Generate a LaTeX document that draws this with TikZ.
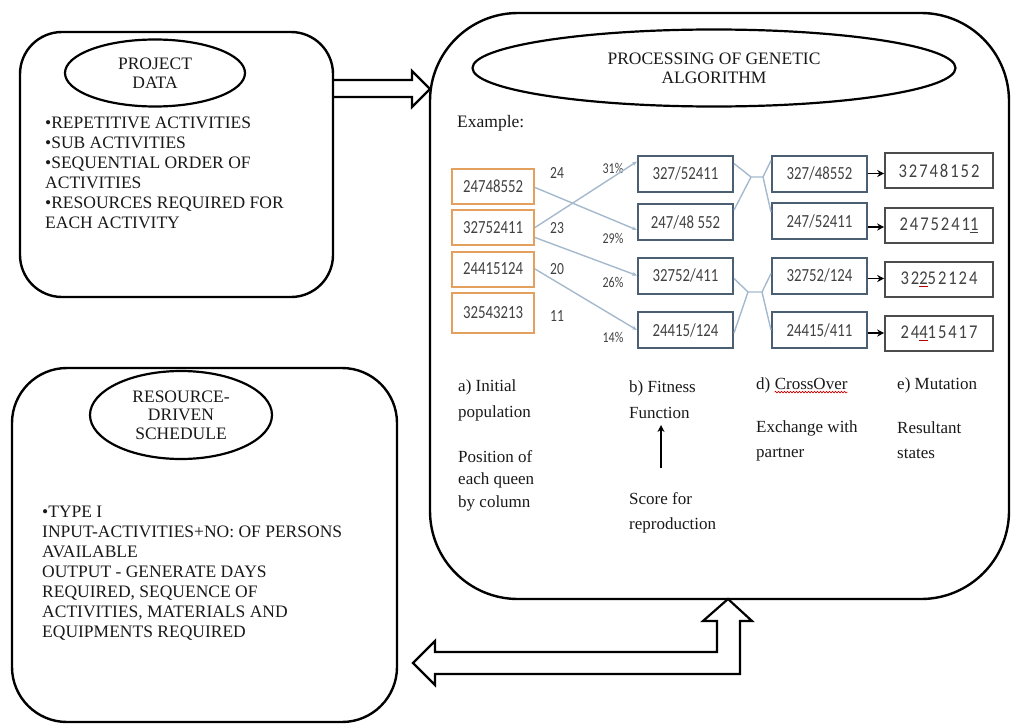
\documentclass[tikz,border=0pt]{standalone}
\usepackage{fontspec}
\setmainfont{Liberation Serif}
\newfontfamily\gafont[FakeStretch=0.8]{Carlito}
\newfontfamily\mutfont[FakeStretch=0.85,LetterSpace=10]{Carlito}
\usetikzlibrary{shapes.geometric,arrows.meta,calc,decorations.pathmorphing}
\definecolor{txt}{RGB}{25,25,25}
\definecolor{orng}{RGB}{228,160,95}
\definecolor{slate}{RGB}{75,95,115}
\definecolor{conn}{RGB}{165,185,205}
\definecolor{digit}{RGB}{65,65,65}
\tikzset{
 bigbox/.style={draw=black, line width=2.4pt, rounded corners=#1, inner sep=0pt},
 oval/.style={ellipse, draw=black, line width=2.2pt, inner sep=0pt, align=center, font=\fontsize{17.5}{19}\selectfont, text=txt},
 body/.style={align=left, font=\fontsize{17.5}{20}\selectfont, text=txt, inner sep=0pt, anchor=west},
 popbox/.style={draw=orng, line width=2pt, minimum width=82pt, minimum height=35pt, inner sep=0pt, font=\gafont\fontsize{18.5}{18}\selectfont, text=digit},
 fitbox/.style={draw=slate, line width=2pt, minimum width=95pt, minimum height=36pt, inner sep=0pt, font=\gafont\fontsize{18.5}{18}\selectfont, text=digit},
 mutbox/.style={draw=black!70, line width=1.6pt, minimum width=108pt, minimum height=35pt, inner sep=0pt, font=\mutfont\fontsize{19.5}{18}\selectfont, text=digit},
 score/.style={font=\gafont\fontsize{17}{17}\selectfont, text=digit, inner sep=0pt},
 lbl/.style={align=left, anchor=west, inner sep=0pt, text=txt},
 link/.style={draw=conn, line width=1.4pt},
 linkarr/.style={link, -{Stealth[length=5pt,width=4pt]}},
 blk/.style={line width=1.5pt, -{Stealth[length=7pt,width=7pt]}},
 hollow/.style={draw=black, line width=2.2pt, line join=miter},
}
\begin{document}
\begin{tikzpicture}[x=1pt,y=-1pt]
\useasboundingbox (0,0) rectangle (1011,725);

% ---------- big boxes ----------
\node[bigbox=42pt, minimum width=313pt, minimum height=265pt] (b1) at (176.5,164.5) {};
\node[bigbox=55pt, minimum width=385pt, minimum height=354pt] (b2) at (204.5,545) {};
\node[bigbox=88pt, minimum width=579pt, minimum height=586pt] (b3) at (719.5,306) {};

% ---------- ovals ----------
\node[oval, minimum width=180pt, minimum height=67pt] (e1) at (155,73) {PROJECT\\DATA};
\node[oval, minimum width=182pt, minimum height=88pt, font=\fontsize{17.5}{18.5}\selectfont] (e2) at (181,415) {RESOURCE-\\DRIVEN\\SCHEDULE};
\node[oval, minimum width=483pt, minimum height=77pt] (e3) at (714,68) {PROCESSING OF GENETIC\\ALGORITHM};

% ---------- box texts ----------
\node[body] (t1) at (45,173) {•REPETITIVE ACTIVITIES\\•SUB ACTIVITIES\\•SEQUENTIAL ORDER OF\\ACTIVITIES\\•RESOURCES REQUIRED FOR\\EACH ACTIVITY};
\node[body] (t2) at (42,573) {•TYPE I\\INPUT-ACTIVITIES+NO: OF PERSONS\\AVAILABLE\\OUTPUT - GENERATE DAYS\\REQUIRED, SEQUENCE OF\\ACTIVITIES, MATERIALS AND\\EQUIPMENTS REQUIRED};

% ---------- GA example ----------
\node[lbl, font=\fontsize{17.5}{20}\selectfont] (ex) at (457,123) {Example:};

\node[popbox] (o1) at (493,186.5) {24748552};
\node[popbox] (o2) at (493,227.5) {32752411};
\node[popbox] (o3) at (493,269) {24415124};
\node[popbox, minimum height=40pt] (o4) at (493,313) {32543213};

\node[score] (s1) at (557,173) {24};
\node[score] (s2) at (557,228) {23};
\node[score] (s3) at (557,269) {20};
\node[score] (s4) at (557,316) {11};

\node[score, font=\gafont\fontsize{15}{15}\selectfont] (p1) at (613,168) {31\%};
\node[score, font=\gafont\fontsize{15}{15}\selectfont] (p2) at (613,238) {29\%};
\node[score, font=\gafont\fontsize{15}{15}\selectfont] (p3) at (613,282) {26\%};
\node[score, font=\gafont\fontsize{15}{15}\selectfont] (p4) at (613,337) {14\%};

\node[fitbox] (c1b1) at (685.5,173.5) {327/52411};
\node[fitbox] (c1b2) at (685.5,222) {247/48 552};
\node[fitbox] (c1b3) at (685.5,275.5) {32752/411};
\node[fitbox] (c1b4) at (685.5,330) {24415/124};

\node[fitbox] (c2b1) at (819.5,173.5) {327/48552};
\node[fitbox] (c2b2) at (819.5,221) {247/52411};
\node[fitbox] (c2b3) at (819.5,275.5) {32752/124};
\node[fitbox] (c2b4) at (819.5,330) {24415/411};

\node[mutbox] (c3b1) at (939,170.5) {32748152};
\node[mutbox] (c3b2) at (939,225.5) {2475241\underline{1}};
\node[mutbox] (c3b3) at (939,279.5) {32{\color{red!70!black}\underline{\color{digit}2}}52124};
\node[mutbox] (c3b4) at (939,333.5) {24{\color{red!70!black}\underline{\color{digit}4}}15417};

% selection connectors
\draw[linkarr] ([yshift=-1pt]o1.east) -- ([yshift=-8pt]c1b2.west);
\draw[linkarr] (o2.east) -- ([yshift=-7pt]c1b1.north west);
\draw[linkarr] ([yshift=-10pt]o2.east) -- (c1b3.west);
\draw[linkarr] (o3.east) -- (c1b4.west);

% crossover connectors
\coordinate (j1) at (751,177);
\coordinate (j2) at (763,177);
\coordinate (j3) at (748,292);
\coordinate (j4) at (762,292);
\draw[link] ([yshift=10pt]c1b1.east) -- (j1) -- (j2) -- ([yshift=13pt]c2b1.west);
\draw[link] ([yshift=12pt]c1b2.east) -- (j1);
\draw[link] (j2) -- ([yshift=9pt]c2b2.west);
\draw[link] ([yshift=-3pt]c1b3.east) -- (j3) -- (j4) -- ([yshift=2pt]c2b3.west);
\draw[link] ([yshift=-3pt]c1b4.east) -- (j3);
\draw[link] (j4) -- (c2b4.west);

% mutation arrows
\draw[blk] (c2b1.east) -- (c2b1.east -| c3b1.west);
\draw[blk] ([yshift=-6pt]c2b2.east) -- ([yshift=-6pt]c2b2.east -| c3b2.west);
\draw[blk] ([yshift=-3pt]c2b3.east) -- ([yshift=-3pt]c2b3.east -| c3b3.west);
\draw[blk] ([yshift=-3pt]c2b4.east) -- ([yshift=-3pt]c2b4.east -| c3b4.west);

% ---------- step labels ----------
\node[lbl, font=\fontsize{17}{26}\selectfont] (la) at (458,400) {a) Initial\\population};
\node[lbl, font=\fontsize{17}{22.5}\selectfont] (la2) at (458,480.5) {Position of\\each queen\\by column};
\node[lbl, font=\fontsize{17}{26}\selectfont] (lb) at (629,400) {b) Fitness\\Function};
\node[lbl, font=\fontsize{17}{25}\selectfont] (lb2) at (629,512.5) {Score for\\reproduction};
\coordinate (fa) at (661,468);
\coordinate (fb) at (661,425);
\draw[blk] (fa) -- (fb);
\node[lbl, font=\fontsize{17}{25}\selectfont] (ld) at (756,385) {d)};
\node[lbl, font=\fontsize{17}{25}\selectfont, anchor=base west] (co) at ([xshift=4pt]ld.base east) {CrossOver};
\draw[red!80!black, line width=0.6pt, decorate, decoration={snake, amplitude=0.8pt, segment length=3pt}] ([yshift=-3pt]co.base west) -- ([yshift=-3pt]co.base east);
\node[lbl, font=\fontsize{17}{25}\selectfont] (ld2) at (756,440.5) {Exchange with\\partner};
\node[lbl, font=\fontsize{17}{25}\selectfont] (le) at (897,385) {e) Mutation};
\node[lbl, font=\fontsize{17}{25}\selectfont] (le2) at (897,440.5) {Resultant\\states};

% ---------- block arrows ----------
\draw[hollow] (b1.east |- 0,80) -- (412,80) -- (412,71) -- (430,89) -- (412,107) -- (412,97) -- (b1.east |- 0,97);
\draw[hollow] (435,652) -- (717,652) -- (717,621) -- (703,621) -- (728,599) -- (752,621) -- (740,621) -- (740,674) -- (435,674) -- (435,685) -- (413,663) -- (435,641) -- cycle;
\end{tikzpicture}
\end{document}
